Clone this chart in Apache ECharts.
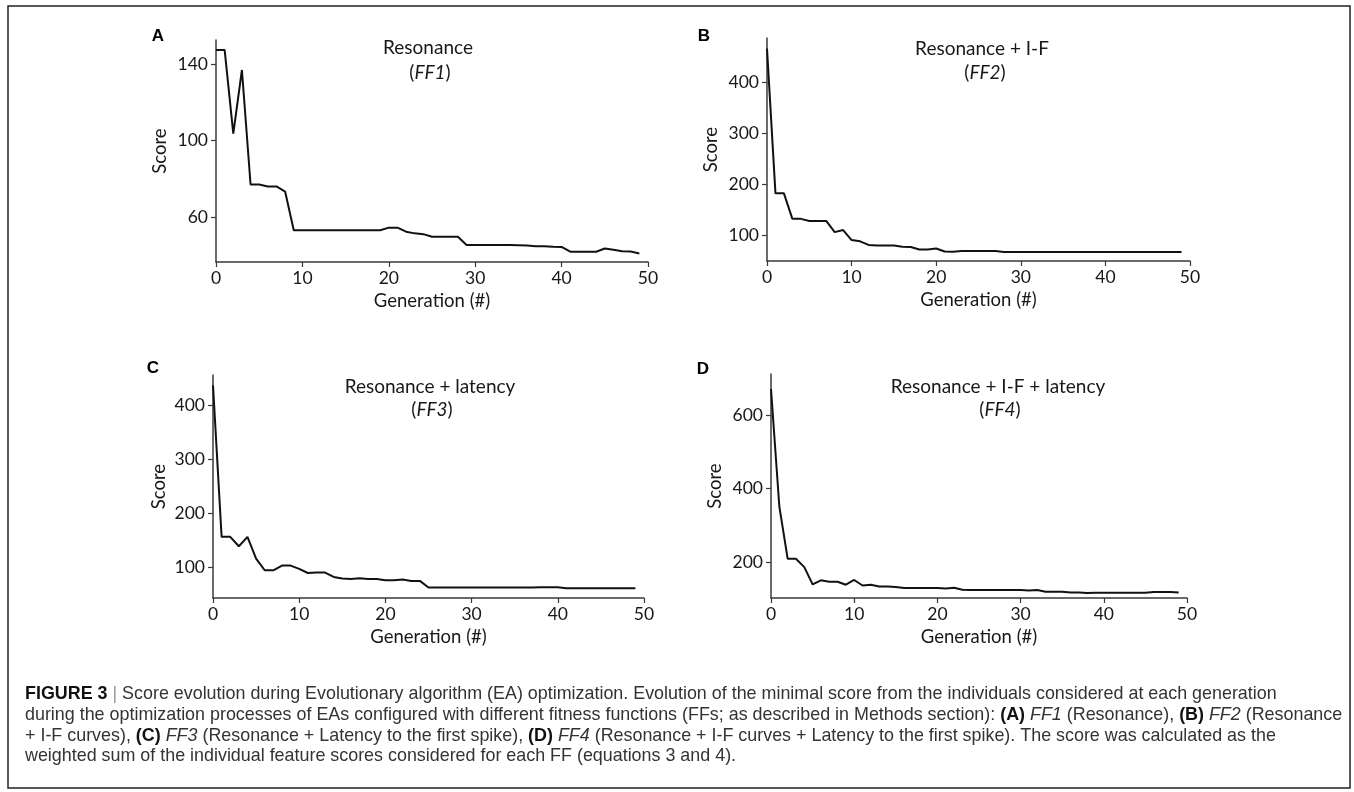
<!DOCTYPE html>
<html>
<head>
<meta charset="utf-8">
<style>
html,body{margin:0;padding:0;background:#fff;}
#chart{width:1354px;height:792px;}
</style>
<script src="https://cdn.jsdelivr.net/npm/echarts@6/dist/echarts.min.js"></script>
</head>
<body>
<div id="chart"></div>
<script>
// Generations 0..49
var generations = [];
for (var g = 0; g < 50; g++) generations.push(g);

var scoreFF1 = [147.5,147.5,103.7,137,77,77,76,76,73.3,53,
  53,53,53,53,53,53,53,53,53,53,
  54.4,54.4,52.3,51.4,51,49.6,49.6,49.6,49.6,45.3,
  45.3,45.3,45.3,45.3,45.3,45.2,45,44.7,44.6,44.4,
  44.3,41.8,41.8,41.8,41.8,43.5,42.8,42,41.9,40.9];

var scoreFF2 = [467,183,183,133,133,129,129,129,107,111,
  91.5,89,82,81,81,81,78.5,78,73,73,
  75,69,68.5,70,70,70,70,70,68,68,
  68,68,68,68,68,68,68,68,68,68,
  68,68,68,68,68,68,68,68,68,68];

var scoreFF3 = [438,157,157,139.6,157,116.7,95,95,103.7,103.7,
  97.5,90,90.7,90.7,82.7,79.6,79,80,79,79,
  76.5,76.5,77.7,75.3,75.3,63,63,63,63,63,
  63,63,63,63,63,63,63,63,63.5,63.5,
  63.5,61.7,61.7,61.7,61.7,61.7,61.7,61.7,61.7,61.7];

var scoreFF4 = [672,352,209,209,186,139,150,146,146,138,
  151,136,138,133,133,132,129,129,129,129,
  129,128,130,124.5,123.6,123.6,123.6,123.6,123.6,123.6,
  123.6,122,123.6,119,119,119,117,117,115.5,116,
  116,116,116,116,116,116,118,118,118,117];

var xTicks = [0,10,20,30,40,50];
var yTicksFF1 = [60,100,140];
var yTicksFF2 = [100,200,300,400];
var yTicksFF3 = [100,200,300,400];
var yTicksFF4 = [200,400,600];

var panelLetters = ['A','B','C','D'];
var panelTitles = ['Resonance','Resonance + I-F','Resonance + latency','Resonance + I-F + latency'];
var panelCodes = ['FF1','FF2','FF3','FF4'];
var yAxisName = 'Score';
var xAxisName = 'Generation (#)';

var captionLines = [
  '{b|FIGURE 3} {g||} Score evolution during Evolutionary algorithm (EA) optimization. Evolution of the minimal score from the individuals considered at each generation',
  'during the optimization processes of EAs configured with different fitness functions (FFs; as described in Methods section): {b|(A)} {i|FF1} (Resonance), {b|(B)} {i|FF2} (Resonance',
  '+ I-F curves), {b|(C)} {i|FF3} (Resonance + Latency to the first spike), {b|(D)} {i|FF4} (Resonance + I-F curves + Latency to the first spike). The score was calculated as the',
  'weighted sum of the individual feature scores considered for each FF (equations 3 and 4).'
];

var chart = echarts.init(document.getElementById('chart'), null, {renderer:'canvas'});

var FONT = 'Lato, "Open Sans", sans-serif';
var TXT = '#1a1718';
var AXC = '#3a3a3a';

// layout per panel
var layout = [
  {left:216, top:40, width:432, height:222, min:36.4, max:152.7, ticks:yTicksFF1, gap:46, data:scoreFF1,
   letter:[158,36], title:[428,48], sub:[430,73]},
  {left:767, top:38, width:423, height:223, min:50.4, max:487.6, ticks:yTicksFF2, gap:46, data:scoreFF2,
   letter:[704,36], title:[982,49], sub:[985,73]},
  {left:213, top:375, width:431, height:223, min:43.6, max:457, ticks:yTicksFF3, gap:44, data:scoreFF3,
   letter:[153,368], title:[430,387], sub:[432,410]},
  {left:771, top:374, width:416, height:224, min:101.8, max:713, ticks:yTicksFF4, gap:46, data:scoreFF4,
   letter:[703,369], title:[998,387], sub:[1000,410]}
];

var grids = [], xAxes = [], yAxes = [], series = [], graphics = [];

graphics.push({type:'rect', shape:{x:8, y:6, width:1342, height:782},
  style:{fill:'none', stroke:'#222', lineWidth:1.5}, z:0});

layout.forEach(function(p, i){
  grids.push({left:p.left, top:p.top, width:p.width, height:p.height, containLabel:false, outerBoundsMode:'none'});
  xAxes.push({
    type:'value', gridIndex:i, min:0, max:50, interval:10,
    name:xAxisName, nameLocation:'middle', nameGap:30,
    nameTextStyle:{fontFamily:FONT, fontSize:18.5, color:TXT},
    axisLine:{show:true, lineStyle:{color:AXC, width:1.5}},
    axisTick:{show:true, length:5, lineStyle:{color:AXC, width:1.2}},
    axisLabel:{fontFamily:FONT, fontSize:17.5, color:TXT, margin:7},
    splitLine:{show:false}
  });
  yAxes.push({
    type:'value', gridIndex:i, min:p.min, max:p.max,
    name:yAxisName, nameLocation:'middle', nameGap:p.gap, nameRotate:90,
    nameTextStyle:{fontFamily:FONT, fontSize:18.5, color:TXT},
    axisLine:{show:true, lineStyle:{color:AXC, width:1.5}},
    axisTick:{show:true, length:5, customValues:p.ticks, lineStyle:{color:AXC, width:1.2}},
    axisLabel:{fontFamily:FONT, fontSize:17.5, color:TXT, margin:8, customValues:p.ticks},
    splitLine:{show:false}
  });
  series.push({
    type:'line', xAxisIndex:i, yAxisIndex:i,
    data: generations.map(function(gg, k){ return [gg, p.data[k]]; }),
    showSymbol:false, symbol:'none',
    lineStyle:{color:'#111', width:2},
    itemStyle:{color:'#111'},
    animation:false, clip:false
  });
  graphics.push({type:'text', x:p.letter[0], y:p.letter[1], z:10,
    style:{text:panelLetters[i], font:'bold 17px "Liberation Sans", Arial, sans-serif', fill:'#000',
      textAlign:'center', textVerticalAlign:'middle'}});
  graphics.push({type:'text', x:p.title[0], y:p.title[1], z:10,
    style:{text:panelTitles[i], font:'19px ' + FONT, fill:TXT, textAlign:'center', textVerticalAlign:'middle'}});
  graphics.push({type:'text', x:p.sub[0], y:p.sub[1], z:10,
    style:{text:'({i|' + panelCodes[i] + '})', font:'19px ' + FONT, fill:TXT, textAlign:'center', textVerticalAlign:'middle',
      rich:{i:{fontStyle:'italic', fontFamily:FONT, fontSize:19, fill:TXT}}}});
});

var CAPFONT = '"Liberation Sans", Arial, sans-serif';
var CAPSIZE = 17.9;
var capY = [694, 715, 736, 756.5];
captionLines.forEach(function(line, k){
  graphics.push({type:'text', x:25, y:capY[k], z:10,
    style:{text:line, fontFamily:CAPFONT, fontSize:CAPSIZE, fill:'#333', textAlign:'left', textVerticalAlign:'middle',
      rich:{
        b:{fontWeight:'bold', fontFamily:CAPFONT, fontSize:CAPSIZE, fill:'#111'},
        i:{fontStyle:'italic', fontFamily:CAPFONT, fontSize:CAPSIZE, fill:'#333'},
        g:{fontFamily:CAPFONT, fontSize:CAPSIZE, fill:'#999'}
      }}});
});

chart.setOption({
  backgroundColor:'#fff',
  animation:false,
  grid:grids, xAxis:xAxes, yAxis:yAxes, series:series,
  graphic:graphics
});
</script>
</body>
</html>
